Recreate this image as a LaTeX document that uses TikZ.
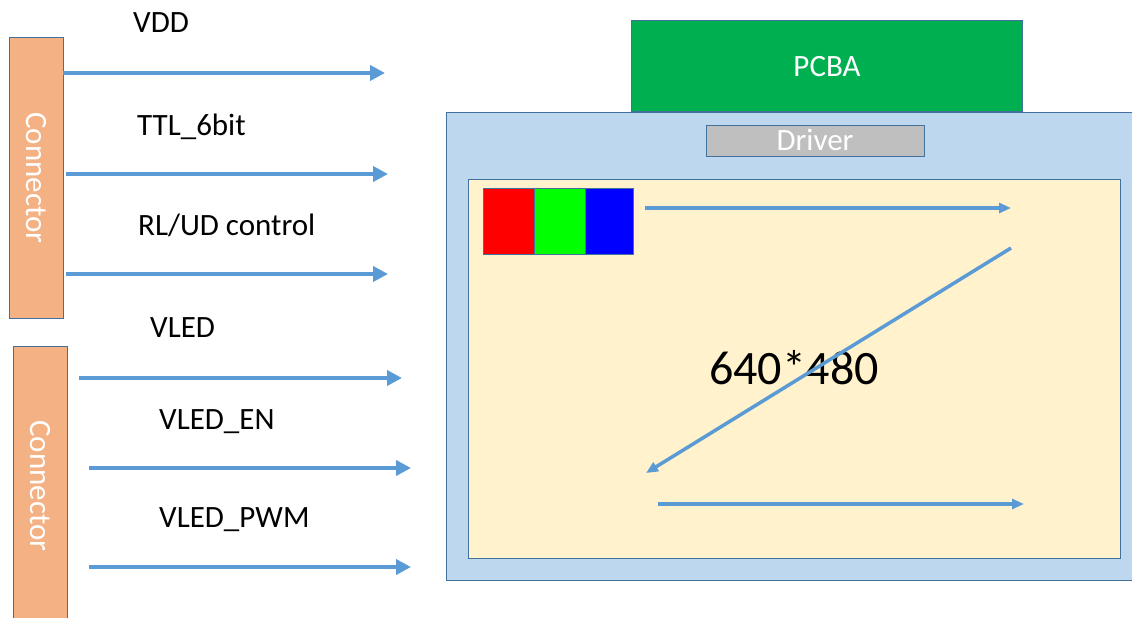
\documentclass[tikz,border=0pt]{standalone}
\usepackage{fontspec}
\setmainfont{Carlito}
\usetikzlibrary{arrows.meta}
\definecolor{bord}{HTML}{41719C}
\definecolor{arr}{HTML}{5B9BD5}
\definecolor{conn}{HTML}{F4B183}
\definecolor{panel}{HTML}{BDD7EE}
\definecolor{screen}{HTML}{FFF2CC}
\definecolor{pcba}{HTML}{00B050}
\definecolor{drv}{HTML}{BFBFBF}
\tikzset{
  box/.style={draw=bord, line width=1pt},
  sig/.style={draw=arr, line width=4.5pt, -{Triangle[length=15pt,width=15pt]}},
  scan/.style={draw=arr, line width=3.5pt, -{Triangle[length=12pt,width=10pt]}},
  lbl/.style={anchor=base west, inner sep=0pt, font=\fontsize{31}{37}\selectfont},
  wlbl/.style={inner sep=0pt, text=white, font=\fontsize{31}{37}\selectfont},
}
\begin{document}
\begin{tikzpicture}[x=1pt,y=-1pt]
\useasboundingbox (0,0) rectangle (1132,618);
\clip (0,0) rectangle (1132,618);
% connectors
\draw[box, fill=conn] (9,38) rectangle (63,318);
\node[wlbl, rotate=-90] (c1) at (36,178) {Connector};
\draw[box, fill=conn] (13,346) rectangle (67,626);
\node[wlbl, rotate=-90] (c2) at (40,486) {Connector};
% signal coordinates
\coordinate (s1a) at (63,73);  \coordinate (s1b) at (385,73);
\coordinate (s2a) at (66,174); \coordinate (s2b) at (388,174);
\coordinate (s3a) at (66,274); \coordinate (s3b) at (388,274);
\coordinate (s4a) at (79,378); \coordinate (s4b) at (402,378);
\coordinate (s5a) at (89,468); \coordinate (s5b) at (411,468);
\coordinate (s6a) at (89,567); \coordinate (s6b) at (411,567);
\draw[sig] (s1a) -- (s1b);
\draw[sig] (s2a) -- (s2b);
\draw[sig] (s3a) -- (s3b);
\draw[sig] (s4a) -- (s4b);
\draw[sig] (s5a) -- (s5b);
\draw[sig] (s6a) -- (s6b);
\node[lbl] (l1) at (133,33) {VDD};
\node[lbl] (l2) at (137,135) {TTL\_6bit};
\node[lbl] (l3) at (138,235) {RL/UD control};
\node[lbl] (l4) at (150,337) {VLED};
\node[lbl] (l5) at (159,429) {VLED\_EN};
\node[lbl] (l6) at (159,527) {VLED\_PWM};
% panel
\draw[box, fill=pcba] (631,21) rectangle (1022,111);
\node[wlbl, anchor=base] (pcba) at (827,77) {PCBA};
\draw[box, fill=panel] (446,112) rectangle (1140,580);
\draw[box, fill=drv] (706,125) rectangle (924,156);
\node[wlbl, anchor=base] (drv) at (815,150) {Driver};
\draw[box, fill=screen] (468,179) rectangle (1120,558);
\draw[box, fill=red] (483,188) rectangle (534,254);
\draw[box, fill={rgb,255:red,0;green,255;blue,0}] (534,188) rectangle (585,254);
\draw[box, fill=blue] (585,188) rectangle (633,254);
\coordinate (t1a) at (645,208);  \coordinate (t1b) at (1011,208);
\coordinate (t2a) at (1011,248); \coordinate (t2b) at (646,473);
\coordinate (t3a) at (658,504);  \coordinate (t3b) at (1024,504);
\node[anchor=base, inner sep=0pt, font=\fontsize{48}{56}\selectfont] (res) at (794,384) {640*480};
\draw[scan] (t1a) -- (t1b);
\draw[scan] (t2a) -- (t2b);
\draw[scan] (t3a) -- (t3b);
\end{tikzpicture}
\end{document}
